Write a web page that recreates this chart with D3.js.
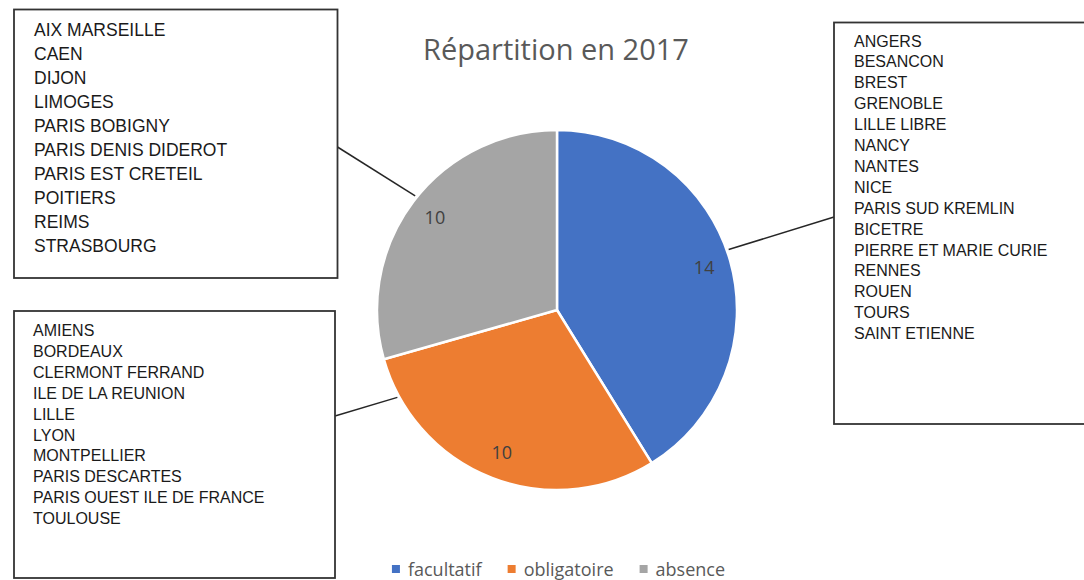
<!DOCTYPE html>
<html>
<head>
<meta charset="utf-8">
<script src="https://cdn.jsdelivr.net/npm/d3@7.9.0/dist/d3.min.js"></script>
<style>
  body { margin: 0; background: #fff; }
  svg { display: block; }
</style>
</head>
<body>
<div id="chart"></div>
<script>
// ── data ─────────────────────────────
const categories = ['facultatif', 'obligatoire', 'absence'];
const values = [14, 10, 10];
const colors = ['#4472C4', '#ED7D31', '#A5A5A5'];
const title = 'Répartition en 2017';

const facultatifCities = ['ANGERS', 'BESANCON', 'BREST', 'GRENOBLE', 'LILLE LIBRE', 'NANCY',
  'NANTES', 'NICE', 'PARIS SUD KREMLIN', 'BICETRE', 'PIERRE ET MARIE CURIE', 'RENNES',
  'ROUEN', 'TOURS', 'SAINT ETIENNE'];
const obligatoireCities = ['AMIENS', 'BORDEAUX', 'CLERMONT FERRAND', 'ILE DE LA REUNION',
  'LILLE', 'LYON', 'MONTPELLIER', 'PARIS DESCARTES', 'PARIS OUEST ILE DE FRANCE', 'TOULOUSE'];
const absenceCities = ['AIX MARSEILLE', 'CAEN', 'DIJON', 'LIMOGES', 'PARIS BOBIGNY',
  'PARIS DENIS DIDEROT', 'PARIS EST CRETEIL', 'POITIERS', 'REIMS', 'STRASBOURG'];

// ── layout ───────────────────────────
const W = 1084, H = 580;
const cx = 557, cy = 310, R = 180;

// callout boxes: one per category, same order as categories
const boxes = [
  { lines: facultatifCities, x: 834, y: 22.5, w: 262, h: 401.5, tx: 854, ty: 46.5, lh: 20.9, fs: 16,
    leaderAngle: 70.6, to: [834, 217] },
  { lines: obligatoireCities, x: 14, y: 311, w: 321, h: 267, tx: 33, ty: 336, lh: 20.9, fs: 16,
    leaderAngle: 241.3, to: [335, 416] },
  { lines: absenceCities, x: 14, y: 9.5, w: 323.5, h: 268.5, tx: 34, ty: 36, lh: 24, fs: 17.5,
    leaderAngle: 308.8, to: [337.5, 147] },
];

const svg = d3.select('#chart').append('svg')
  .attr('width', W).attr('height', H);

// title
svg.append('text')
  .attr('x', 556).attr('y', 60)
  .attr('text-anchor', 'middle')
  .style('font-family', '"Open Sans", sans-serif')
  .style('font-size', '29px')
  .style('fill', '#595959')
  .text(title);

// pie
const pie = d3.pie().sort(null).value(d => d);
const arcs = pie(values);
const arc = d3.arc().innerRadius(0).outerRadius(R);
const labelArc = d3.arc().innerRadius(153).outerRadius(153);

const g = svg.append('g').attr('transform', `translate(${cx},${cy})`);

g.selectAll('path')
  .data(arcs)
  .join('path')
    .attr('d', arc)
    .attr('fill', (d, i) => colors[i])
    .attr('stroke', '#fff')
    .attr('stroke-width', 2.5);

g.selectAll('text.val')
  .data(arcs)
  .join('text')
    .attr('class', 'val')
    .attr('transform', d => `translate(${labelArc.centroid(d)})`)
    .attr('text-anchor', 'middle')
    .attr('dy', '0.35em')
    .style('font-family', '"Open Sans", sans-serif')
    .style('font-size', '18px')
    .style('fill', '#404040')
    .text(d => d.data);

// callout boxes with city lists
const rad = Math.PI / 180;
boxes.forEach(b => {
  const a = b.leaderAngle * rad;
  const fromX = cx + (R + 2) * Math.sin(a);
  const fromY = cy - (R + 2) * Math.cos(a);
  svg.append('line')
    .attr('x1', fromX).attr('y1', fromY)
    .attr('x2', b.to[0]).attr('y2', b.to[1])
    .attr('stroke', '#262626')
    .attr('stroke-width', 1.5);

  svg.append('rect')
    .attr('x', b.x).attr('y', b.y)
    .attr('width', b.w).attr('height', b.h)
    .attr('fill', '#fff')
    .attr('stroke', '#333')
    .attr('stroke-width', 1.8);

  svg.append('g').selectAll('text')
    .data(b.lines)
    .join('text')
      .attr('x', b.tx)
      .attr('y', (d, i) => b.ty + i * b.lh)
      .style('font-family', '"Liberation Sans", Arial, sans-serif')
      .style('font-size', b.fs + 'px')
      .style('fill', '#1a1a1a')
      .text(d => d);
});

// legend
const legend = svg.append('g');
let lx = 0;
categories.forEach((c, i) => {
  const item = legend.append('g').attr('transform', `translate(${lx},0)`);
  item.append('rect')
    .attr('x', 0).attr('y', -11)
    .attr('width', 8).attr('height', 8)
    .attr('fill', colors[i]);
  const t = item.append('text')
    .attr('x', 16).attr('y', 0)
    .style('font-family', '"Open Sans", sans-serif')
    .style('font-size', '18px')
    .style('fill', '#595959')
    .text(c);
  lx += 16 + t.node().getComputedTextLength() + 26;
});
const legendW = lx - 26;
legend.attr('transform', `translate(${558.5 - legendW / 2},576)`);
</script>
</body>
</html>
